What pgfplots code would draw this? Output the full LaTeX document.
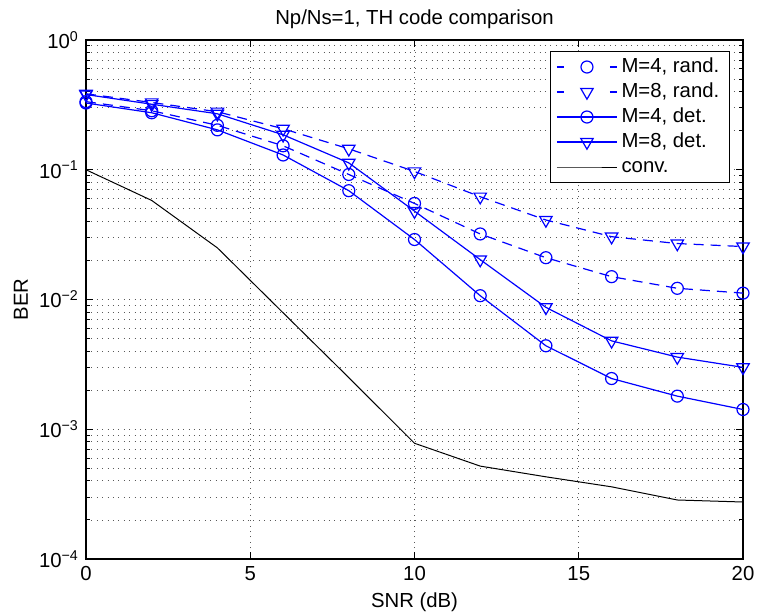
\documentclass[border=0pt]{standalone}
\usepackage{fontspec}
\setmainfont{Liberation Sans}
\usepackage{pgfplots}
\pgfplotsset{compat=1.18}
\definecolor{mblue}{rgb}{0,0,1}
\pgfplotstableread{
x   r4      r8      d4       d8      conv
0   0.335   0.385   0.327    0.380   0.1
2   0.285   0.330   0.275    0.320   0.058
4   0.220   0.280   0.203    0.270   0.025
6   0.153   0.207   0.130    0.186   0.0079
8   0.092   0.145   0.069    0.113   0.0025
10  0.055   0.097   0.029    0.048   0.00078
12  0.032   0.062   0.0107   0.0203  0.00052
14  0.021   0.041   0.0044   0.0087  0.00043
16  0.015   0.0305  0.00246  0.0048  0.00036
18  0.0122  0.027   0.0018   0.0036  0.000285
20  0.0112  0.0256  0.00142  0.0030  0.000275
}\datatable
\begin{document}
\fontsize{10.2}{12.2}\selectfont
\begin{tikzpicture}
\useasboundingbox (0,0) rectangle (379bp,307bp);
\begin{axis}[
  at={(43bp,27.5bp)}, anchor=south west,
  scale only axis, width=328.5bp, height=259.5bp,
  font=\fontsize{10.2}{12.2}\selectfont,
  xmin=0, xmax=20, ymin=1e-4, ymax=1, ymode=log,
  xtick={0,5,10,15,20},
  ytick={1e-4,1e-3,1e-2,1e-1,1},
  yticklabels={10\textsuperscript{−4},10\textsuperscript{−3},10\textsuperscript{−2},10\textsuperscript{−1},10\textsuperscript{0}},
  minor ytick={2e-4,3e-4,4e-4,5e-4,6e-4,7e-4,8e-4,9e-4,
               2e-3,3e-3,4e-3,5e-3,6e-3,7e-3,8e-3,9e-3,
               2e-2,3e-2,4e-2,5e-2,6e-2,7e-2,8e-2,9e-2,
               2e-1,3e-1,4e-1,5e-1,6e-1,7e-1,8e-1,9e-1},
  /pgf/number format/assume math mode=true,
  tick align=inside,
  major tick length=3.5bp, minor tick length=2bp,
  every tick/.style={black, line width=0.5bp},
  xmajorgrids, ymajorgrids, yminorgrids,
  major grid style={black!65, line width=0.45bp, dash pattern=on 0.5bp off 2.2bp},
  minor grid style={black!65, line width=0.45bp, dash pattern=on 0.5bp off 2.2bp},
  axis line style={line width=0.6bp},
  title={Np/Ns=1, TH code comparison},
  every axis title shift=0pt,
  title style={at={(axis description cs:0.5,1.029)}, anchor=base, inner sep=0pt, yshift=0pt},
  xlabel={SNR (dB)},
  xlabel style={at={(axis description cs:0.5,-0.0925)}, anchor=base, inner sep=0pt},
  ylabel={BER},
  ylabel style={at={(axis description cs:-0.088,0.5)}, anchor=south, inner sep=0pt},
  legend style={at={(axis description cs:0.980,0.979)}, anchor=north east,
    draw=black, fill=white, line width=0.6bp, inner xsep=3bp, inner ysep=1.5bp,
    row sep=0pt,
    nodes={inner ysep=1.5bp, text height=7.4bp, text depth=2.1bp}},
  legend cell align=left,
  legend image code/.code={\draw[mark repeat=2,mark phase=2,#1] plot coordinates {(0bp,0bp) (15bp,0bp) (30bp,0bp)};},
  every axis plot/.append style={line width=0.6bp},
]
\addplot[mblue, dash pattern=on 5bp off 3.5bp, mark=o, mark size=3bp, mark options={solid},
  legend image post style={dash pattern=on 3.6bp off 22.8bp}] table[x=x,y=r4] {\datatable};
\addlegendentry{M=4, rand.}
\addplot[mblue, dash pattern=on 5bp off 3.5bp, mark=triangle, mark size=3.6bp, mark options={solid, rotate=180},
  legend image post style={dash pattern=on 3.6bp off 22.8bp}] table[x=x,y=r8] {\datatable};
\addlegendentry{M=8, rand.}
\addplot[mblue, mark=o, mark size=3bp] table[x=x,y=d4] {\datatable};
\addlegendentry{M=4, det.}
\addplot[mblue, mark=triangle, mark size=3.6bp, mark options={rotate=180}] table[x=x,y=d8] {\datatable};
\addlegendentry{M=8, det.}
\addplot[black, line width=0.5bp] table[x=x,y=conv] {\datatable};
\addlegendentry{conv.}
\end{axis}
\end{tikzpicture}
\end{document}
